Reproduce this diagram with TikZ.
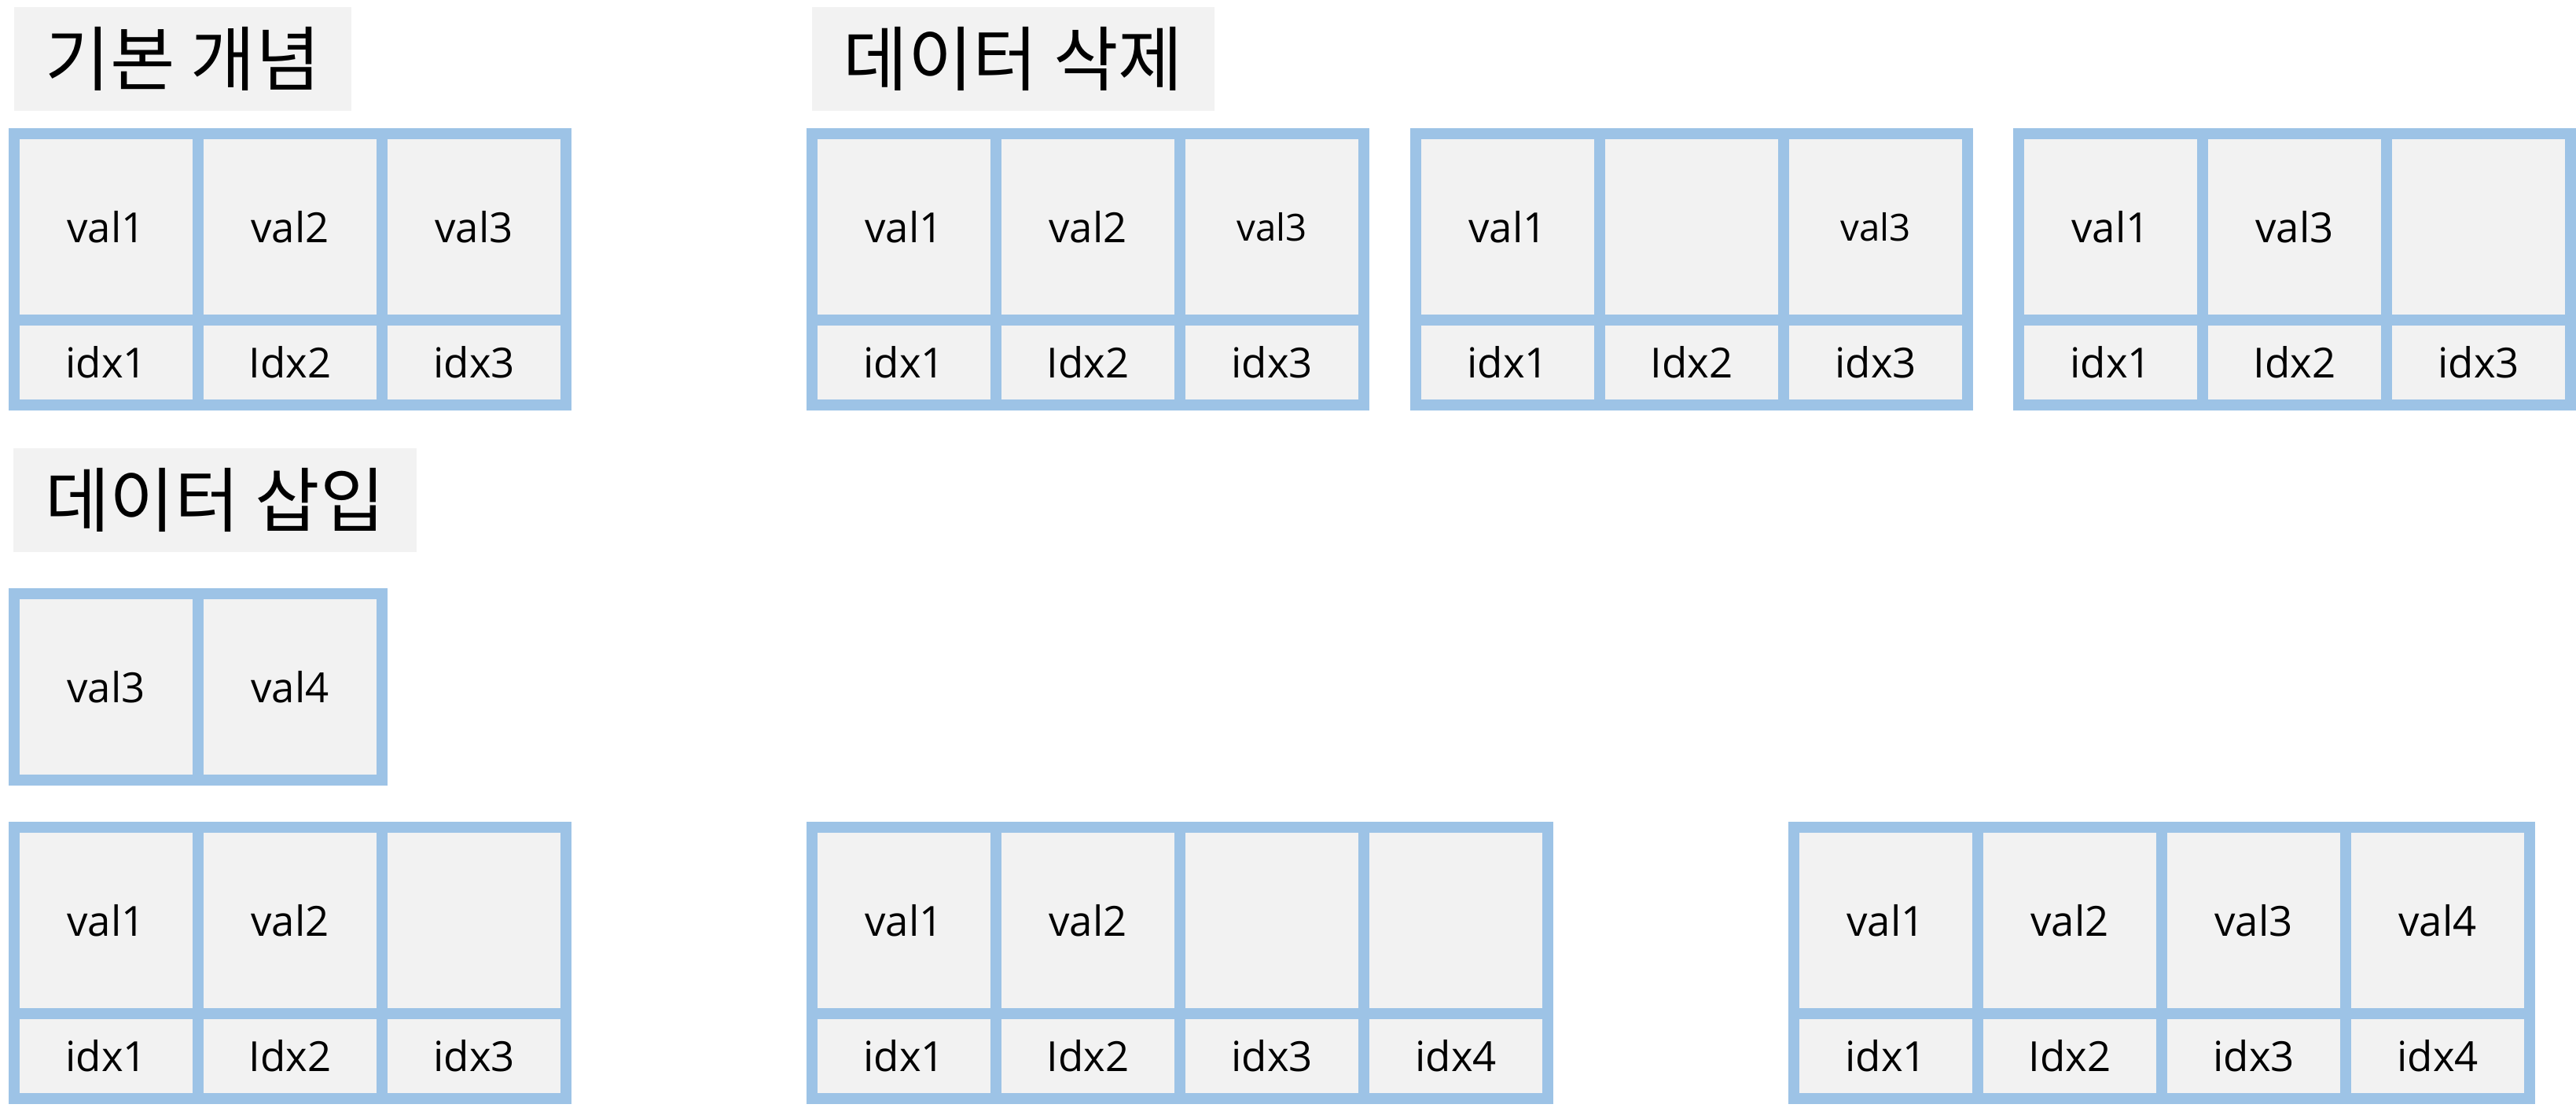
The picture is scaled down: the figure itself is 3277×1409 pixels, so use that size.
\documentclass[tikz,border=0pt]{standalone}
\usepackage{fontspec}
\setmainfont{Open Sans}
\newfontfamily\hangul{Noto Sans CJK KR}
\usetikzlibrary{positioning}
\definecolor{cellblue}{HTML}{9DC3E6}
\definecolor{cellgray}{HTML}{F2F2F2}

\begin{document}
\begin{tikzpicture}[x=0.01cm, y=-0.01cm,
    every node/.style={outer sep=0pt, inner sep=0pt},
    cell/.style={draw=cellblue, fill=cellgray, line width=0.14cm, minimum width=2.34cm, font=\fontsize{15}{18}\selectfont},
    valcell/.style={cell, minimum height=2.37cm},
    idxcell/.style={cell, minimum height=1.08cm},
    plain/.style={},
    smalltext/.style={font=\fontsize{13.5}{16}\selectfont},
    heading/.style={fill=cellgray, anchor=north west, minimum height=1.32cm, font=\hangul\fontsize{25.5}{29}\selectfont}]

  \useasboundingbox (0,0) rectangle (3277,1409);

  % titles
  \node[heading, minimum width=4.29cm] (basic) at (18,9) {기본 개념};
  \node[heading, minimum width=5.12cm] (delete) at (1033,9) {데이터 삭제};
  \node[heading, minimum width=5.13cm] (insert) at (17,570) {데이터 삽입};

  % basic concept
  \foreach \v/\k [count=\i] in {val1/idx1, val2/Idx2, val3/idx3} {
    \node[valcell, anchor=north west] (basic-v\i) at (18+234*\i-234,170) {\v};
    \node[idxcell, below=0pt of basic-v\i] (basic-i\i) {\k};
  }

  % delete, three steps
  \foreach \v/\k/\s [count=\i] in {val1/idx1/plain, val2/Idx2/plain, val3/idx3/smalltext} {
    \node[valcell, \s, anchor=north west] (delA-v\i) at (1033+234*\i-234,170) {\v};
    \node[idxcell, below=0pt of delA-v\i] (delA-i\i) {\k};
  }
  \foreach \v/\k/\s [count=\i] in {val1/idx1/plain, /Idx2/plain, val3/idx3/smalltext} {
    \node[valcell, \s, anchor=north west] (delB-v\i) at (1801+234*\i-234,170) {\v};
    \node[idxcell, below=0pt of delB-v\i] (delB-i\i) {\k};
  }
  \foreach \v/\k [count=\i] in {val1/idx1, val3/Idx2, /idx3} {
    \node[valcell, anchor=north west] (delC-v\i) at (2568+234*\i-234,170) {\v};
    \node[idxcell, below=0pt of delC-v\i] (delC-i\i) {\k};
  }

  % insert
  \foreach \v [count=\i] in {val3, val4}
    \node[valcell, anchor=north west] (new-v\i) at (18+234*\i-234,755) {\v};

  \foreach \v/\k [count=\i] in {val1/idx1, val2/Idx2, /idx3} {
    \node[valcell, anchor=north west] (insA-v\i) at (18+234*\i-234,1052) {\v};
    \node[idxcell, below=0pt of insA-v\i] (insA-i\i) {\k};
  }
  \foreach \v/\k [count=\i] in {val1/idx1, val2/Idx2, /idx3, /idx4} {
    \node[valcell, anchor=north west] (insB-v\i) at (1033+234*\i-234,1052) {\v};
    \node[idxcell, below=0pt of insB-v\i] (insB-i\i) {\k};
  }
  \foreach \v/\k [count=\i] in {val1/idx1, val2/Idx2, val3/idx3, val4/idx4} {
    \node[valcell, anchor=north west] (insC-v\i) at (2282+234*\i-234,1052) {\v};
    \node[idxcell, below=0pt of insC-v\i] (insC-i\i) {\k};
  }
\end{tikzpicture}
\end{document}
